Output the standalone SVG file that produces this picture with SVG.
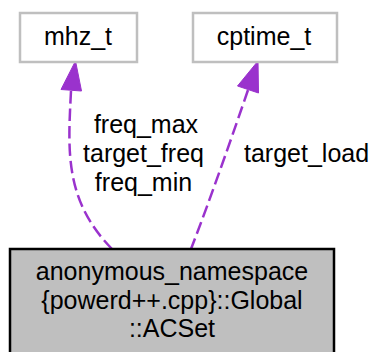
<svg xmlns="http://www.w3.org/2000/svg" width="373" height="352" viewBox="0 0 373 352">
  <style>
    text { font-family: "Liberation Sans", Arial, Helvetica, sans-serif; font-size: 25px; fill: #000; }
    .mid { text-anchor: middle; }
    .ref rect { fill: #ffffff; stroke: #bfbfbf; stroke-width: 2.5; }
    .main rect { fill: #bfbfbf; stroke: #000000; stroke-width: 2.5; }
    .edge path { fill: none; stroke: #9a32cd; stroke-width: 2.5; stroke-dasharray: 12.5,5; }
    .edge polygon { fill: #9a32cd; stroke: #9a32cd; stroke-width: 1; }
  </style>
  <rect width="373" height="352" fill="#ffffff"/>

  <!-- member relations -->
  <g id="edges">
    <g class="edge" id="edge-mhz">
      <path d="M71,91 C68,150 64,200 112,249"/>
      <polygon points="75.5,61 61,89.5 81.5,91"/>
      <text class="mid" x="146" y="133">freq_max</text>
      <text class="mid" x="143.5" y="162">target_freq</text>
      <text class="mid" x="143.5" y="191">freq_min</text>
    </g>
    <g class="edge" id="edge-cptime">
      <path d="M248,90 C235,128 210,200 191,249"/>
      <polygon points="258,61 237.5,86 258.5,93"/>
      <text x="244" y="162">target_load</text>
    </g>
  </g>

  <g id="node-mhz_t" class="ref">
    <rect x="20" y="13" width="117" height="49"/>
    <text class="mid" x="78" y="45">mhz_t</text>
  </g>

  <g id="node-cptime_t" class="ref">
    <rect x="193" y="13" width="144" height="49"/>
    <text class="mid" x="264" y="45">cptime_t</text>
  </g>

  <g id="node-ACSet" class="main">
    <rect x="10" y="249" width="324" height="110"/>
    <text class="mid" x="172" y="280">anonymous_namespace</text>
    <text class="mid" x="172" y="309">{powerd++.cpp}::Global</text>
    <text class="mid" x="172" y="337">::ACSet</text>
  </g>
</svg>
